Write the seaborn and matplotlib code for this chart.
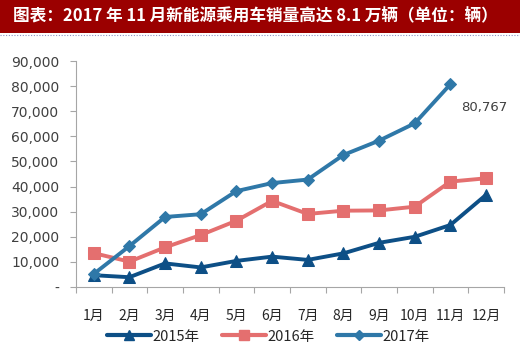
import matplotlib
matplotlib.use("Agg")
import matplotlib.pyplot as plt
from matplotlib.patches import Rectangle
from matplotlib.lines import Line2D
from matplotlib.ticker import FuncFormatter, FixedLocator
import numpy as np
import pandas as pd
import seaborn as sns

# Monthly new-energy passenger vehicle sales (units)
months = ["1月", "2月", "3月", "4月", "5月", "6月", "7月", "8月", "9月", "10月", "11月", "12月"]
sales_2015 = [4700, 3900, 9400, 7800, 10400, 12100, 10800, 13400, 17600, 20000, 24700, 36700]
sales_2016 = [13500, 10100, 15800, 20700, 26400, 34300, 29100, 30400, 30500, 32000, 42000, 43300]
sales_2017 = [5200, 16300, 27900, 29000, 38200, 41400, 42800, 52600, 58300, 65200, 80767]
series_names = ["2015年", "2016年", "2017年"]

colors = {"2015年": "#0d4f86", "2016年": "#e46f6f", "2017年": "#2f78a8"}
markers = {"2015年": "^", "2016年": "s", "2017年": "D"}
msizes = {"2015年": 8, "2016年": 8, "2017年": 6}

rows = []
for name, vals in zip(series_names, [sales_2015, sales_2016, sales_2017]):
    for i, v in enumerate(vals):
        rows.append({"pos": i, "month": months[i], "sales": v, "year": name})
df = pd.DataFrame(rows)

sns.set_style("white")
plt.rcParams["font.family"] = ["Noto Sans CJK SC", "DejaVu Sans"]

fig = plt.figure(figsize=(5.2, 3.46), dpi=100)
ax = fig.add_axes([0.146, 0.1705, 0.823, 0.653])

for name in series_names:
    sub = df[df["year"] == name]
    sns.lineplot(data=sub, x="pos", y="sales", ax=ax, color=colors[name],
                 marker=markers[name], markersize=msizes[name],
                 markeredgecolor=colors[name], linewidth=2.8, legend=False)

ax.set_xlim(-0.5, 11.5)
ax.set_ylim(0, 90000)
ax.set_xlabel("")
ax.set_ylabel("")

# y axis
ax.yaxis.set_major_locator(FixedLocator(np.arange(0, 90001, 10000)))
ax.yaxis.set_major_formatter(FuncFormatter(lambda v, p: "-" if v == 0 else f"{int(v):,}"))
ax.tick_params(axis="y", left=True, length=4, width=0.8, color="#a6a6a6",
               labelsize=10, labelcolor="#404040", pad=8)
for t in ax.get_yticklabels():
    t.set_family("DejaVu Sans")

# x axis: labels at category centres, tick marks on category boundaries
ax.set_xticks(range(12))
ax.set_xticklabels(months)
ax.set_xticks(np.arange(-0.5, 12, 1), minor=True)
ax.tick_params(axis="x", which="major", bottom=False, labelsize=10,
               labelcolor="#262626", pad=12)
ax.tick_params(axis="x", which="minor", bottom=True, length=4, width=0.8, color="#a6a6a6")

for s in ["top", "right"]:
    ax.spines[s].set_visible(False)
for s in ["left", "bottom"]:
    ax.spines[s].set_color("#a6a6a6")
    ax.spines[s].set_linewidth(0.8)

# value label for the latest month
ax.annotate(f"{sales_2017[-1]:,}", xy=(10, sales_2017[-1]), xytext=(8, -17),
            textcoords="offset points", fontsize=9.5, color="#404040",
            family="DejaVu Sans", ha="left", va="center")

handles = [Line2D([], [], color=colors[n], marker=markers[n], markersize=msizes[n] - 1,
                  linewidth=3) for n in series_names]
ax.legend(handles, series_names, loc="upper center", bbox_to_anchor=(0.45, -0.13),
          ncol=3, frameon=False, fontsize=10.5, handlelength=3.0, handletextpad=0.15,
          columnspacing=1.5, labelcolor="#262626")

# title banner
fig.patches.append(Rectangle((0, 0.905), 1, 0.095, transform=fig.transFigure,
                             facecolor="#9b0000", edgecolor="none", zorder=0))
fig.lines.append(Line2D([0, 1], [0.9, 0.9], transform=fig.transFigure,
                        color="#8a8fc0", linewidth=0.8, linestyle=(0, (1, 1.5))))
fig.text(0.025, 0.952, "图表：2017 年 11 月新能源乘用车销量高达 8.1 万辆（单位：辆）",
         color="white", fontsize=12, fontweight="bold", ha="left", va="center")

fig.savefig("out.png", dpi=100)
